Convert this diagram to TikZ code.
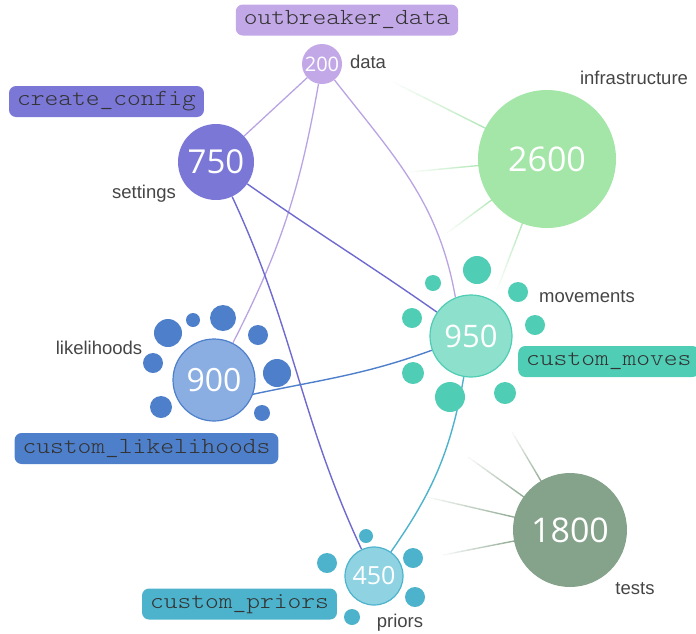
\documentclass[tikz,border=0pt]{standalone}
\usepackage{fontspec}
\setmainfont{Liberation Sans}
\newfontfamily\numfont{Open Sans}
\newfontfamily\codefont[FakeStretch=1.14]{Latin Modern Mono Light}
\usetikzlibrary{calc}
\pgfdeclarelayer{background}
\pgfsetlayers{background,main}
\definecolor{cData}{HTML}{C3A8E8}
\definecolor{cDataEdge}{HTML}{B9A3E3}
\definecolor{cSet}{HTML}{7B77D7}
\definecolor{cSetEdge}{HTML}{6E6AD0}
\definecolor{cInf}{HTML}{A3E6A8}
\definecolor{cInfLine}{HTML}{B5E8B9}
\definecolor{cMovFill}{HTML}{8DE0CC}
\definecolor{cMov}{HTML}{4FCDB5}
\definecolor{cLikFill}{HTML}{8BAEE2}
\definecolor{cLik}{HTML}{4E7FCB}
\definecolor{cPriFill}{HTML}{8FD3E3}
\definecolor{cPri}{HTML}{4DB3CC}
\definecolor{cTest}{HTML}{84A38A}
\definecolor{cTestLine}{HTML}{93AC97}
\definecolor{labelgray}{HTML}{454545}
\definecolor{codegray}{HTML}{333333}
\begin{document}
\begin{tikzpicture}[x=1pt,y=-1pt,
  bubble/.style={circle, inner sep=0pt, text=white},
  sat/.style={circle, inner sep=0pt},
  lbl/.style={text=labelgray, font=\fontsize{18.5}{20}\selectfont, inner sep=0pt},
  codebox/.style={rounded corners=7pt, minimum height=31pt, inner xsep=8pt, inner ysep=0pt, text=codegray, font=\codefont\fontsize{23}{23}\selectfont},
  eData/.style={draw=cDataEdge, line width=1.3pt},
  eSet/.style={draw=cSetEdge, line width=1.4pt},
  eLik/.style={draw=cLik, line width=1.4pt},
  ePri/.style={draw=cPri, line width=1.4pt}]
\useasboundingbox (0,0) rectangle (696,633);

% code boxes
\node[codebox, fill=cData] (boxdata) at (347,20) {outbreaker\_data};
\node[codebox, fill=cSet] (boxset) at (106.5,101.5) {create\_config};
\node[codebox, fill=cLik] (boxlik) at (146.5,448.5) {custom\_likelihoods};
\node[codebox, fill=cMov, anchor=west] (boxmov) at (518,361.5) {custom\_moves};
\node[codebox, fill=cPri] (boxpri) at (239.5,604) {custom\_priors};

% main bubbles
\node[bubble, fill=cData, minimum size=40pt, font=\numfont\fontsize{20}{20}\selectfont] (data) at (322,64) {200};
\node[bubble, fill=cSet, minimum size=76pt, font=\numfont\fontsize{33}{33}\selectfont] (set) at (216,162) {750};
\node[bubble, fill=cInf, minimum size=138pt, font=\numfont\fontsize{34}{34}\selectfont] (inf) at (547,159) {2600};
\node[bubble, fill=cMovFill, draw=cMov, line width=1.2pt, minimum size=82pt, font=\numfont\fontsize{31}{31}\selectfont] (mov) at (471,336) {950};
\node[bubble, fill=cLikFill, draw=cLik, line width=1.2pt, minimum size=82pt, font=\numfont\fontsize{32}{32}\selectfont] (lik) at (214,380) {900};
\node[bubble, fill=cPriFill, draw=cPri, line width=1.2pt, minimum size=58pt, font=\numfont\fontsize{25}{25}\selectfont] (pri) at (374,576) {450};
\node[bubble, fill=cTest, minimum size=114pt, font=\numfont\fontsize{34}{34}\selectfont] (test) at (570,530) {1800};

% satellites of 950
\node[sat, fill=cMov, minimum size=28pt] (m1) at (477,270) {};
\node[sat, fill=cMov, minimum size=16pt] (m2) at (433,283) {};
\node[sat, fill=cMov, minimum size=20pt] (m3) at (518,292) {};
\node[sat, fill=cMov, minimum size=20pt] (m4) at (412,318) {};
\node[sat, fill=cMov, minimum size=20pt] (m5) at (535,325) {};
\node[sat, fill=cMov, minimum size=22pt] (m6) at (413,373) {};
\node[sat, fill=cMov, minimum size=30pt] (m7) at (450,397) {};
\node[sat, fill=cMov, minimum size=22pt] (m8) at (505,393) {};

% satellites of 900
\node[sat, fill=cLik, minimum size=28pt] (l1) at (168,333) {};
\node[sat, fill=cLik, minimum size=14pt] (l2) at (193,320) {};
\node[sat, fill=cLik, minimum size=26pt] (l3) at (223,318) {};
\node[sat, fill=cLik, minimum size=20pt] (l4) at (258,335) {};
\node[sat, fill=cLik, minimum size=28pt] (l5) at (277,373) {};
\node[sat, fill=cLik, minimum size=20pt] (l6) at (153,363) {};
\node[sat, fill=cLik, minimum size=22pt] (l7) at (161,407) {};
\node[sat, fill=cLik, minimum size=16pt] (l8) at (262,413) {};

% satellites of 450
\node[sat, fill=cPri, minimum size=14pt] (p1) at (366,536) {};
\node[sat, fill=cPri, minimum size=20pt] (p2) at (327,563) {};
\node[sat, fill=cPri, minimum size=20pt] (p3) at (413,558) {};
\node[sat, fill=cPri, minimum size=20pt] (p4) at (415,597) {};
\node[sat, fill=cPri, minimum size=16pt] (p5) at (352,617) {};

% labels
\node[lbl] (ldata) at (368,62) {data};
\node[lbl] (linf) at (634,78) {infrastructure};
\node[lbl] (lset) at (144,194) {settings};
\node[lbl] (lmov) at (587,297) {movements};
\node[lbl] (llik) at (99,348) {likelihoods};
\node[lbl] (lpri) at (400,623) {priors};
\node[lbl] (ltest) at (635,589) {tests};

% free ends of faint lines
\coordinate (g1) at (393,82);
\coordinate (g2) at (410,172);
\coordinate (g3) at (447,233);
\coordinate (g4) at (497,290);
\coordinate (t1) at (512,432);
\coordinate (t2) at (468,457);
\coordinate (t3) at (427,497);
\coordinate (t4) at (443,555);

\begin{pgfonlayer}{background}
\foreach \s/\t/\r/\c in {g1/inf/68/cInfLine, g2/inf/68/cInfLine, g3/inf/68/cInfLine, g4/inf/68/cInfLine,
                         t1/test/56/cTestLine, t2/test/56/cTestLine, t3/test/56/cTestLine, t4/test/56/cTestLine} {
  \coordinate (e) at ($(\t)!\r pt!(\s)$);
  \foreach \k in {0,...,11} {
    \pgfmathtruncatemacro\p{100*(\k+1)/12}
    \draw[line width=1.4pt, draw=\c!\p!white] ($(\s)!{\k/12}!(e)$) -- ($(\s)!{(\k+1)/12}!(e)$);
  }
}
\draw[eData] (data) -- (set);
\draw[eData] (data) to[out=-100, in=63] (lik);
\draw[eData] (data) to[out=-52, in=100] (mov.112);
\draw[eSet] (set) to[out=-35, in=145] (mov);
\draw[eSet] (set) to[out=-65, in=115] (pri);
\draw[eLik] (lik.-20) to[out=12, in=200] (mov);
\draw[ePri] (mov) to[out=-100, in=55] (pri);
\end{pgfonlayer}
\end{tikzpicture}
\end{document}
